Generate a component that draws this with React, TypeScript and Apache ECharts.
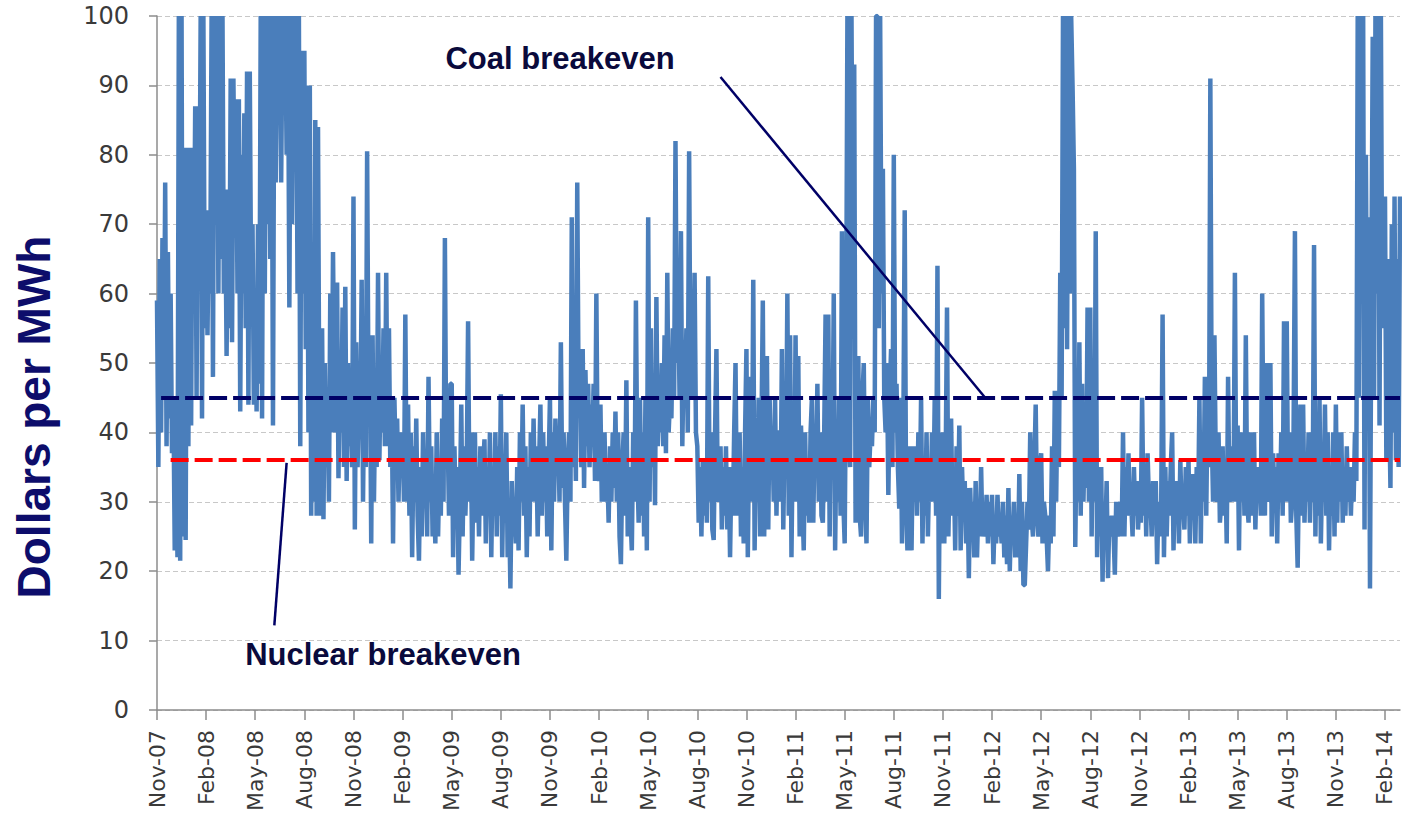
import React, { useEffect, useRef } from "react";
import * as echarts from "echarts";

// ---- data -------------------------------------------------------------
// Twelve readings per month (about every 2-3 days), Nov-2007 .. Feb-2014
const pointDays = [1, 3, 6, 8, 11, 13, 16, 18, 21, 23, 26, 28];
const startYear = 2007;
const startMonthIndex = 10; // November
const monthAbbr = ["Jan", "Feb", "Mar", "Apr", "May", "Jun", "Jul", "Aug", "Sep", "Oct", "Nov", "Dec"];
const labelMonths = ["Feb", "May", "Aug", "Nov"];

const price2007 = [
  59, 35, 65, 40, 68, 45, 76, 38, 66, 42, 60, 37,
  45, 23, 40, 22, 100, 21.5, 100, 25, 81, 24.5, 81, 38,
];
const price2008 = [
  81, 41, 81, 60, 87, 45, 87, 65, 100, 42, 100, 55,
  72, 54, 72, 60, 100, 48, 100, 70, 100, 60, 100, 65,
  100, 60, 75, 51, 75, 55, 91, 53, 91, 70, 88, 60,
  88, 43, 80, 60, 86, 55, 92, 44, 92, 60, 70, 44,
  60, 43, 70, 47, 100, 42, 100, 60, 100, 70, 100, 65,
  100, 41, 100, 76, 100, 85, 100, 76, 100, 90, 100, 80,
  100, 58, 100, 70, 100, 85, 100, 60, 100, 38, 95, 60,
  95, 52, 90, 40, 90, 28, 60, 30, 85, 28, 84, 40,
  28, 55, 27.5, 50, 35, 45, 30, 60, 40, 66, 45, 40,
  61.6, 33.4, 50, 40, 58, 35, 61, 33, 50, 38, 45, 35,
  74, 26, 53, 35, 45, 40, 62, 30, 50, 35, 80.5, 45,
  54, 24, 54, 30, 45, 35, 63, 36, 50, 40, 55, 38,
];
const price2009 = [
  63, 38, 55, 35, 45, 24, 45, 35, 42, 30, 40, 35,
  40, 30, 57, 30, 44, 28, 40, 22, 38, 30, 42, 28,
  21.5, 35, 25, 40, 30, 35, 25, 48, 30, 38, 25, 30,
  24, 40, 25, 35, 28, 42, 30, 68, 35, 40, 28, 47,
  47, 22, 38, 28, 35, 19.5, 30, 44, 25, 38, 28, 35,
  56, 30, 40, 21.5, 35, 40, 27, 35, 25, 38, 28, 35,
  39, 24, 35, 28, 40, 22, 35, 28, 40, 25, 38, 28,
  45.5, 22, 35, 30, 40, 22, 30, 17.5, 33, 25, 30, 24,
  35, 23, 40, 30, 44, 28, 38, 22, 35, 25, 40, 30,
  42, 30, 38, 25, 35, 44, 28, 40, 30, 38, 25, 35,
  45, 23, 40, 30, 42, 35, 40, 30, 53, 32, 40, 30,
  21.5, 35, 40, 30, 71, 35, 45, 33, 76, 45, 50, 35,
];
const price2010 = [
  52, 32, 49, 38, 47, 35, 44, 38, 47, 33, 60, 35,
  33, 44, 30, 38, 40, 30, 35, 27, 38, 30, 40, 32,
  43, 30, 40, 25, 21, 35, 40, 28, 47.5, 25, 35, 28,
  23, 40, 30, 59, 35, 27, 45, 28, 40, 25, 45, 23,
  71, 30, 55, 35, 45, 29.5, 59.5, 38, 45, 40, 50, 38,
  54, 37, 63, 40, 45, 42, 55, 45, 82, 50, 60, 45,
  69, 38, 50, 45, 55, 40, 80.5, 45, 60, 45, 63, 40,
  38, 27, 35, 25, 36, 28, 35, 27, 62.5, 30, 40, 26,
  24.5, 40, 52, 30, 35, 38, 26, 35, 28, 38, 26, 35,
  22, 35, 28, 40, 50, 28, 35, 40, 25, 35, 24, 40,
  52, 22, 40, 48, 30, 62, 23, 40, 30, 45, 25, 40,
  59, 25, 40, 51, 26, 45, 35, 40, 30, 45, 28, 40,
];
const price2011 = [
  40, 30, 52, 26, 40, 35, 60, 28, 54, 22, 40, 30,
  54, 30, 51, 25, 41, 30, 23, 40, 28, 35, 27, 40,
  45, 27, 40, 35, 47, 30, 40, 28, 27, 40, 57, 30,
  57, 25, 45, 35, 60, 23, 40, 30, 45, 28, 69, 30,
  24, 50, 100, 40, 35, 100, 60, 93, 27, 45, 51, 28,
  25, 45, 50, 30, 24, 45, 35, 40, 38, 45, 40, 100,
  100, 55, 100, 60, 78, 45, 40, 50, 31, 45, 52, 35,
  80, 40, 47, 35, 29, 45, 24, 40, 72, 30, 23, 38,
  35, 23, 38, 30, 38, 28, 40, 30, 45, 24, 35, 28,
  40, 25, 35, 30, 40, 30, 45, 28, 64, 16, 40, 24,
  40, 24, 35, 58, 25, 35, 42, 28, 35, 23, 38, 28,
  41, 23, 35, 28, 33, 24, 32, 19, 32, 25, 30, 22,
];
const price2012 = [
  33, 22, 30, 25, 35, 25, 28, 25, 31, 24, 30, 25,
  31, 21, 28, 24, 31, 25, 28, 24, 30, 22, 28, 21,
  32, 20, 28, 24, 30, 22, 28, 22, 34, 20, 30, 18,
  18, 24, 30, 26, 40, 28, 25, 35, 44, 28, 25, 35,
  37, 24, 30, 28, 25, 20, 28, 24, 38, 25, 46, 30,
  46, 35, 63, 45, 100, 55, 100, 52, 100, 60, 100, 90,
  78, 23.5, 40, 30, 53, 28, 47, 30, 40, 32, 58, 30,
  58, 25, 45, 30, 69, 22, 35, 25, 35, 18.5, 30, 25,
  33, 19, 28, 25, 28, 26, 19.5, 30, 25, 28, 30, 25,
  40, 25, 35, 28, 37, 28, 30, 25, 35, 28, 33, 26,
  30, 27, 45, 28, 35, 25, 37, 30, 31, 25, 33, 28,
  33, 21, 30, 25, 30, 57, 22, 35, 25, 33, 28, 35,
];
const price2013 = [
  40, 23, 33, 28, 33, 24, 36, 28, 30, 26, 35, 28,
  36, 24, 34, 28, 34, 24, 35, 28, 45, 24, 40, 30,
  48, 28, 45, 35, 91, 40, 30, 54, 35, 30, 40, 27,
  30, 38, 28, 35, 24, 48, 30, 35, 38, 30, 63, 30,
  41, 23, 40, 30, 40, 28, 54, 30, 27, 40, 35, 28,
  40, 26, 35, 30, 35, 28, 60, 35, 28, 50, 35, 30,
  50, 25, 37, 30, 35, 24, 37, 30, 40, 28, 56, 30,
  56, 30, 40, 27, 30, 40, 69, 28, 20.5, 35, 44, 28,
  44, 27, 36, 30, 40, 27, 35, 30, 67, 25, 40, 28,
  45, 24, 35, 30, 44, 28, 40, 23, 35, 28, 40, 25,
  44, 27, 40, 30, 40, 27, 35, 28, 38, 30, 35, 28,
  35, 30, 40, 33, 100, 45, 100, 60, 100, 26, 80, 45,
];
const price2014 = [
  71, 17.5, 60, 97, 45, 100, 60, 100, 41, 100, 55, 70,
  74, 36, 65, 45, 32, 70, 40, 74, 36, 65, 35, 74,
];

const coalBreakeven = 45;
const nuclearBreakeven = 36;

const prices = [
  ...price2007, ...price2008, ...price2009, ...price2010,
  ...price2011, ...price2012, ...price2013, ...price2014,
];

const pad = (n: number) => String(n).padStart(2, "0");
const categories: string[] = [];
const monthCount = Math.round(prices.length / pointDays.length);
for (let m = 0; m < monthCount; m++) {
  const yr = startYear + Math.floor((startMonthIndex + m) / 12);
  const mo = (startMonthIndex + m) % 12;
  for (const d of pointDays) categories.push(`${yr}-${pad(mo + 1)}-${pad(d)}`);
}

const isLabelCat = (val: string) => {
  const [, mo, d] = val.split("-");
  return d === "01" && labelMonths.includes(monthAbbr[Number(mo) - 1]);
};
const fmtCat = (val: string) => {
  const [yr, mo] = val.split("-");
  return `${monthAbbr[Number(mo) - 1]}-${yr.slice(2)}`;
};

// annotation anchor points (category date, value)
const coalLineStart = "2007-11-08";
const nuclearLineStart = "2007-11-26";
const coalLeaderFrom = ["2010-09-13", 91.2];
const coalLeaderTo = ["2012-01-18", coalBreakeven];
const nuclearLeaderFrom = ["2008-06-28", 35.6];
const nuclearLeaderTo = ["2008-06-06", 12.2];
const last = categories[categories.length - 1];

const option: any = {
  animation: false,
  backgroundColor: "#ffffff",
  grid: { left: 157, right: 2, top: 16, bottom: 119, containLabel: false },
  xAxis: {
    type: "category",
    data: categories,
    boundaryGap: false,
    axisLine: { lineStyle: { color: "#8c8c8c", width: 1.5 } },
    axisTick: {
      show: true,
      length: 10,
      interval: (_i: number, v: string) => isLabelCat(v),
      lineStyle: { color: "#8c8c8c", width: 1.5 },
    },
    axisLabel: {
      interval: (_i: number, v: string) => isLabelCat(v),
      formatter: (v: string) => fmtCat(v),
      rotate: 90,
      margin: 20,
      color: "#3a3a3a",
      fontFamily: "DejaVu Sans",
      fontSize: 22,
    },
    splitLine: { show: false },
  },
  yAxis: {
    type: "value",
    min: 0,
    max: 100,
    interval: 10,
    axisLine: { show: true, lineStyle: { color: "#8c8c8c", width: 1.5 } },
    axisTick: { show: true, length: 8, lineStyle: { color: "#8c8c8c", width: 1.5 } },
    axisLabel: {
      margin: 28,
      color: "#3a3a3a",
      fontFamily: "DejaVu Sans",
      fontSize: 24,
    },
    splitLine: { show: true, lineStyle: { color: "#c8c8c8", width: 1.2, type: [5, 3] } },
  },
  series: [
    {
      type: "line",
      data: prices,
      showSymbol: false,
      symbol: "none",
      lineStyle: { color: "#4a7ebb", width: 4.5 },
      itemStyle: { color: "#4a7ebb" },
      clip: true,
      markLine: {
        silent: true,
        symbol: ["none", "none"],
        animation: false,
        label: { show: false },
        emphasis: { disabled: true },
        data: [
          [
            { coord: [coalLineStart, coalBreakeven], lineStyle: { color: "#000066", width: 4, type: [18, 6] } },
            { coord: [last, coalBreakeven] },
          ],
          [
            { coord: [nuclearLineStart, nuclearBreakeven], lineStyle: { color: "#ff0000", width: 4, type: [18, 6] } },
            { coord: [last, nuclearBreakeven] },
          ],
          [
            { coord: coalLeaderFrom, lineStyle: { color: "#000066", width: 2.5, type: "solid" } },
            { coord: coalLeaderTo },
          ],
          [
            { coord: nuclearLeaderFrom, lineStyle: { color: "#000066", width: 2.5, type: "solid" } },
            { coord: nuclearLeaderTo },
          ],
        ],
      },
    },
  ],
  graphic: [
    {
      type: "text",
      x: 560,
      y: 58,
      style: {
        text: "Coal breakeven",
        font: 'bold 31px "Liberation Sans", Arial, sans-serif',
        fill: "#0a0a3c",
        align: "center",
        verticalAlign: "middle",
      },
    },
    {
      type: "text",
      x: 383,
      y: 654,
      style: {
        text: "Nuclear breakeven",
        font: 'bold 31px "Liberation Sans", Arial, sans-serif',
        fill: "#0a0a3c",
        align: "center",
        verticalAlign: "middle",
      },
    },
    {
      type: "text",
      x: 34,
      y: 417,
      rotation: Math.PI / 2,
      style: {
        text: "Dollars per MWh",
        font: 'bold 46px "Liberation Sans", Arial, sans-serif',
        fill: "#0d0d6b",
        align: "center",
        verticalAlign: "middle",
      },
    },
  ],
};

export default function App() {
  const ref = useRef<HTMLDivElement>(null);
  useEffect(() => {
    const chart = echarts.init(ref.current!, null, { renderer: "svg" });
    chart.setOption(option);
    return () => chart.dispose();
  }, []);
  return (
    <div
      ref={ref}
      style={{ position: "absolute", left: 0, top: 0, width: 1402, height: 829, background: "#fff" }}
    />
  );
}
